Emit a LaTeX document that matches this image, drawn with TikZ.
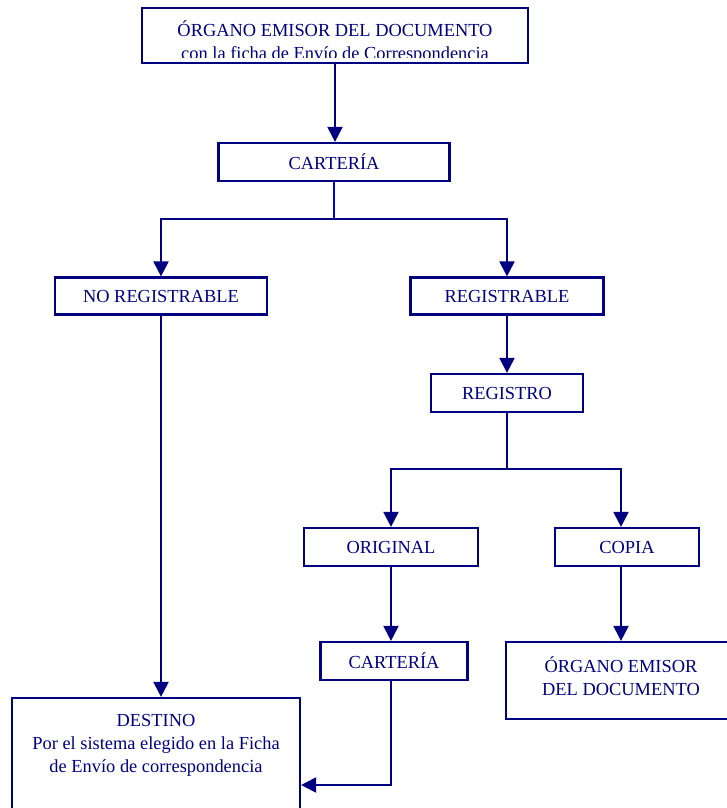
\documentclass[tikz,border=0pt]{standalone}
\usepackage{fontspec}
\setmainfont{Liberation Serif}
\usetikzlibrary{arrows.meta}
\definecolor{navy}{RGB}{0,0,128}
\definecolor{brightblue}{RGB}{0,0,230}
\begin{document}
\begin{tikzpicture}[x=1pt,y=-1pt,
  every node/.style={font=\fontsize{18.4}{23}\selectfont, text=navy},
  box/.style={draw=navy, line width=2.2pt, rectangle, inner sep=0pt, align=center},
  conn/.style={draw=navy, line width=2.1pt},
  arr/.style={conn, -{Triangle[width=15pt,length=15pt]}},
  lbl/.style={align=center, inner sep=0pt}]
\useasboundingbox (0,0) rectangle (726,808);
% nodes
\node[box, minimum width=386pt, minimum height=55pt] (top) at (335,35.5) {};
\begin{scope}
  \clip (142,8) rectangle (528,57.5);
  \node[lbl] (toptext) at (335,42) {ÓRGANO EMISOR DEL DOCUMENTO\\con la ficha de Envío de Correspondencia};
\end{scope}
\node[box, minimum width=231pt, minimum height=38pt] (cart1) at (334,162) {CARTERÍA};
\node[box, minimum width=212pt, minimum height=37pt] (noreg) at (161,296) {NO REGISTRABLE};
\node[box, minimum width=193pt, minimum height=37pt] (reg) at (507,296) {REGISTRABLE};
\node[box, minimum width=152pt, minimum height=38pt] (registro) at (507,393) {REGISTRO};
\node[box, minimum width=174pt, minimum height=38pt] (orig) at (391,547) {ORIGINAL};
\node[box, minimum width=144pt, minimum height=38pt] (copia) at (627,547) {COPIA};
\node[box, minimum width=147pt, minimum height=38pt] (cart2) at (394,661) {CARTERÍA};
\node[box, minimum width=230pt, minimum height=77pt] (organo) at (621,680.5) {};
\node[lbl] (organotext) at (621,676) {ÓRGANO EMISOR\\DEL DOCUMENTO};
\node[box, minimum width=288pt, minimum height=140pt] (destbox) at (156,768) {};
\node[lbl] (desttext) at (156,745) {DESTINO\\Por el sistema elegido en la Ficha\\de Envío de correspondencia};
% connectors
\coordinate (br1) at (334,219);
\coordinate (br2) at (507,469);
\coordinate (turn) at (391,785);
\draw[arr] (top.south) -- (top.south |- cart1.north);
\draw[draw=brightblue, line width=1.6pt] (cart1.south) -- (br1);
\draw[arr] (br1) -| (noreg.north);
\draw[arr] (br1) -| (reg.north);
\draw[arr] (reg.south) -- (registro.north);
\draw[conn] (registro.south) -- (br2);
\draw[arr] (br2) -| (orig.north);
\draw[arr] (br2) -| (organo.north |- copia.north);
\draw[arr] (orig.south) -- (orig.south |- cart2.north);
\draw[arr] (organo.north |- copia.south) -- (organo.north);
\draw[arr] (noreg.south) -- (noreg.south |- destbox.north);
\draw[arr] (cart2.south -| turn) -- (turn) -- (turn -| destbox.east);
\end{tikzpicture}
\end{document}
